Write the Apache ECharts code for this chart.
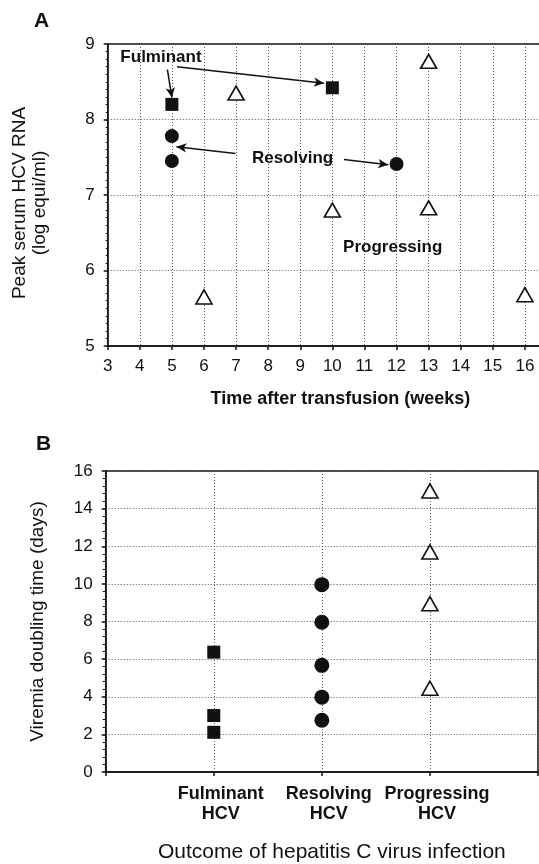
<!DOCTYPE html>
<html>
<head>
<meta charset="utf-8">
<script src="https://cdn.jsdelivr.net/npm/echarts@6/dist/echarts.min.js"></script>
<style>
  html, body { margin: 0; padding: 0; background: #fff; }
  #chart { width: 539px; height: 864px; }
</style>
</head>
<body>
<div id="chart"></div>
<script>
// Panel A: peak serum HCV RNA vs. time after transfusion
const fulminantWeeks = [5, 10];
const fulminantPeak = [8.2, 8.42];
const resolvingWeeks = [5, 5, 12];
const resolvingPeak = [7.78, 7.45, 7.41];
const progressingWeeks = [6, 7, 10, 13, 13, 16];
const progressingPeak = [5.65, 8.35, 6.8, 8.77, 6.83, 5.68];

// Panel B: viremia doubling time by outcome
const outcomes = ['Fulminant\nHCV', 'Resolving\nHCV', 'Progressing\nHCV'];
const fulminantDoubling = [6.37, 3.0, 2.11];
const resolvingDoubling = [9.96, 7.96, 5.67, 3.98, 2.75];
const progressingDoubling = [14.94, 11.7, 8.95, 4.45];

// annotation text and arrows of panel A, in data units
const noteTexts = ['Fulminant', 'Resolving', 'Progressing'];
const notePlaces = [[4.66, 8.82], [8.76, 7.49], [11.88, 6.31]];
const arrows = [
  [[4.86, 8.66], [5.0, 8.29]],
  [[5.16, 8.70], [9.74, 8.48]],
  [[6.98, 7.55], [5.14, 7.64]],
  [[10.36, 7.47], [11.74, 7.40]]
];

const FONT = 'Liberation Sans, Arial, sans-serif';
const INK = '#111';

const zip = (xs, ys) => xs.map((x, i) => [x, ys[i]]);
const atColumn = (col, ys) => ys.map(y => [col, y]);

const gridLine = { show: true, lineStyle: { color: '#555', type: [1, 2], width: 1 } };
const axisLine = { show: true, lineStyle: { color: INK, width: 1.5 } };
const tickLabel = { color: INK, fontFamily: FONT, fontSize: 17 };
const solid = { color: INK, opacity: 1 };
const hollow = { color: '#fff', borderColor: INK, borderWidth: 1.6, opacity: 1 };

const chart = echarts.init(document.getElementById('chart'));

const option = {
  animation: false,
  backgroundColor: '#fff',
  grid: [
    { left: 107.7, right: -18, top: 44, bottom: 518, outerBoundsMode: 'none', containLabel: false,
      show: true, borderColor: INK, borderWidth: 1.5 },
    { left: 105.7, right: 1, top: 471, bottom: 92, outerBoundsMode: 'none', containLabel: false,
      show: true, borderColor: INK, borderWidth: 1.5 }
  ],
  xAxis: [
    {
      gridIndex: 0, type: 'value', min: 3, max: 17, interval: 1,
      axisLine: axisLine,
      axisTick: { show: true, length: 4, lineStyle: { color: INK, width: 1.5 } },
      axisLabel: Object.assign({ margin: 12, formatter: v => (v <= 16 ? String(v) : '') }, tickLabel),
      splitLine: gridLine,
      name: 'Time after transfusion (weeks)', nameLocation: 'middle', nameGap: 44,
      nameTextStyle: { color: INK, fontFamily: FONT, fontSize: 18, fontWeight: 'bold', padding: [0, 0, 0, 16] }
    },
    {
      gridIndex: 1, type: 'value', min: 0, max: 4, interval: 1,
      axisLine: axisLine,
      axisTick: { show: true, length: 4, lineStyle: { color: INK, width: 1.5 } },
      axisLabel: Object.assign({}, tickLabel, {
        margin: 12, fontSize: 18, fontWeight: 'bold', lineHeight: 20, padding: [0, 0, 0, 14],
        formatter: v => outcomes[v - 1] || ''
      }),
      splitLine: gridLine,
      name: 'Outcome of hepatitis C virus infection', nameLocation: 'middle', nameGap: 70,
      nameTextStyle: { color: INK, fontFamily: FONT, fontSize: 21, padding: [0, 0, 0, 20] }
    }
  ],
  yAxis: [
    {
      gridIndex: 0, type: 'value', min: 5, max: 9, interval: 1,
      axisLine: axisLine,
      axisTick: { show: true, length: 4, lineStyle: { color: INK, width: 1.5 } },
      minorTick: { show: true, splitNumber: 10, length: 2, lineStyle: { color: INK } },
      axisLabel: Object.assign({ margin: 13 }, tickLabel),
      splitLine: gridLine,
      name: 'Peak serum HCV RNA\n(log equi/ml)', nameLocation: 'middle', nameRotate: 90, nameGap: 58,
      nameTextStyle: { color: INK, fontFamily: FONT, fontSize: 19, lineHeight: 20, padding: [0, 16, 0, 0] }
    },
    {
      gridIndex: 1, type: 'value', min: 0, max: 16, interval: 2,
      axisLine: axisLine,
      axisTick: { show: true, length: 4, lineStyle: { color: INK, width: 1.5 } },
      minorTick: { show: true, splitNumber: 5, length: 3, lineStyle: { color: INK } },
      axisLabel: Object.assign({ margin: 13 }, tickLabel),
      splitLine: gridLine,
      name: 'Viremia doubling time (days)', nameLocation: 'middle', nameRotate: 90, nameGap: 58,
      nameTextStyle: { color: INK, fontFamily: FONT, fontSize: 19 }
    }
  ],
  graphic: [
    { type: 'text', left: 34, top: 11, style: { text: 'A', font: 'bold 21px ' + FONT, fill: INK } },
    { type: 'text', left: 36, top: 434, style: { text: 'B', font: 'bold 21px ' + FONT, fill: INK } }
  ],
  series: [
    // panel A
    {
      name: 'Fulminant', type: 'scatter', xAxisIndex: 0, yAxisIndex: 0,
      symbol: 'rect', symbolSize: 13, itemStyle: solid,
      data: zip(fulminantWeeks, fulminantPeak)
    },
    {
      name: 'Resolving', type: 'scatter', xAxisIndex: 0, yAxisIndex: 0,
      symbol: 'circle', symbolSize: 14, itemStyle: solid,
      data: zip(resolvingWeeks, resolvingPeak)
    },
    {
      name: 'Progressing', type: 'scatter', xAxisIndex: 0, yAxisIndex: 0,
      symbol: 'triangle', symbolSize: [16, 14], itemStyle: hollow,
      data: zip(progressingWeeks, progressingPeak)
    },
    {
      name: 'notes', type: 'scatter', xAxisIndex: 0, yAxisIndex: 0,
      symbolSize: 0, silent: true, itemStyle: { opacity: 1 },
      label: {
        show: true, position: 'inside', formatter: p => p.name,
        color: INK, fontFamily: FONT, fontSize: 17, fontWeight: 'bold'
      },
      data: noteTexts.map((t, i) => ({ name: t, value: notePlaces[i] })),
      markLine: {
        silent: true, symbol: ['none', 'arrow'], symbolSize: [7, 10],
        label: { show: false },
        lineStyle: { color: INK, width: 1.5, type: 'solid', opacity: 1 },
        data: arrows.map(a => [{ coord: a[0] }, { coord: a[1] }])
      }
    },
    // panel B
    {
      name: 'Fulminant HCV', type: 'scatter', xAxisIndex: 1, yAxisIndex: 1,
      symbol: 'rect', symbolSize: 13, itemStyle: solid,
      data: atColumn(1, fulminantDoubling)
    },
    {
      name: 'Resolving HCV', type: 'scatter', xAxisIndex: 1, yAxisIndex: 1,
      symbol: 'circle', symbolSize: 15, itemStyle: solid,
      data: atColumn(2, resolvingDoubling)
    },
    {
      name: 'Progressing HCV', type: 'scatter', xAxisIndex: 1, yAxisIndex: 1,
      symbol: 'triangle', symbolSize: [16, 14], itemStyle: hollow,
      data: atColumn(3, progressingDoubling)
    }
  ]
};

chart.setOption(option);
</script>
</body>
</html>
